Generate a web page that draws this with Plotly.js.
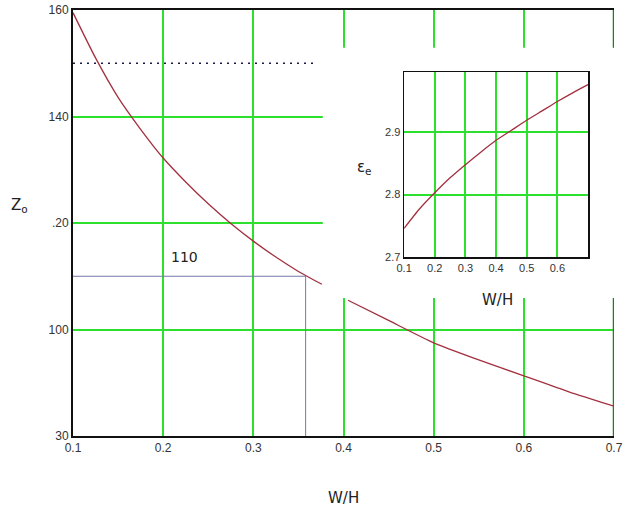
<!DOCTYPE html>
<html>
<head>
<meta charset="utf-8">
<script src="https://cdn.plot.ly/plotly-3.0.1.min.js"></script>
<style>html,body{margin:0;padding:0;background:#fff;}#chart{width:632px;height:511px;}</style>
</head>
<body>
<div id="chart"></div>
<script>
// Main curve Zo vs W/H (two visible segments, gap hidden behind the inset)
const zoX1 = [0.10, 0.125, 0.15, 0.175, 0.20, 0.225, 0.25, 0.275, 0.30, 0.325, 0.35, 0.376];
const zoY1 = [159.5, 151.0, 143.6, 137.6, 132.2, 127.7, 123.6, 119.9, 116.6, 113.6, 110.9, 108.5];
const zoX2 = [0.405, 0.45, 0.50, 0.55, 0.60, 0.65, 0.70];
const zoY2 = [105.5, 101.7, 97.5, 94.3, 91.3, 88.3, 85.6];

// Inset curve effective permittivity vs W/H
const epsX = [0.10, 0.15, 0.20, 0.25, 0.30, 0.35, 0.40, 0.45, 0.50, 0.55, 0.60, 0.65, 0.70];
const epsY = [2.746, 2.777, 2.803, 2.827, 2.848, 2.868, 2.887, 2.903, 2.919, 2.934, 2.949, 2.963, 2.976];

// Reference markers
const targetZo = 110;
const targetWH = 0.358;
const dottedZo = 150;
const dottedEnd = 0.37;

// Tick values / labels
const mainXTicks = [0.1, 0.2, 0.3, 0.4, 0.5, 0.6, 0.7];
const mainXText = ["0.1", "0.2", "0.3", "0.4", "0.5", "0.6", "0.7"];
const mainYTicks = [80, 100, 120, 140, 160];
const mainYText = ["30", "100", ".20", "140", "160"];
const insetXTicks = [0.1, 0.2, 0.3, 0.4, 0.5, 0.6];
const insetXText = ["0.1", "0.2", "0.3", "0.4", "0.5", "0.6"];
const insetYTicks = [2.7, 2.8, 2.9];
const insetYText = ["2.7", "2.8", "2.9"];

const curveColor = '#a3303f';
const gridGreen = '#2ee02e';

const traces = [
  // white patch behind inset (covers main grid in that region)
  {x: [0.377, 0.75, 0.75, 0.377, 0.377], y: [152.9, 152.9, 105.9, 105.9, 152.9],
   mode: 'lines', fill: 'toself', fillcolor: '#ffffff', line: {width: 0, color: '#ffffff'},
   xaxis: 'x', yaxis: 'y', hoverinfo: 'skip'},
  // dark green right edge line at 0.7
  {x: [0.7, 0.7, null, 0.7, 0.7], y: [160, 152.9, null, 105.9, 80],
   mode: 'lines', line: {color: '#1f7f1f', width: 2.5}, xaxis: 'x', yaxis: 'y', hoverinfo: 'skip'},
  // dotted line
  {x: [mainXTicks[0], dottedEnd], y: [dottedZo, dottedZo], mode: 'lines',
   line: {color: '#1a1a4a', width: 1.5, dash: '2px,5px'}, xaxis: 'x', yaxis: 'y', hoverinfo: 'skip'},
  // reference lines
  {x: [mainXTicks[0], targetWH, targetWH], y: [targetZo, targetZo, mainYTicks[0]], mode: 'lines',
   line: {color: '#7777aa', width: 1}, xaxis: 'x', yaxis: 'y', hoverinfo: 'skip'},
  {x: zoX1, y: zoY1, mode: 'lines', line: {color: curveColor, width: 1.3, shape: 'spline', smoothing: 0.6}, xaxis: 'x', yaxis: 'y'},
  {x: zoX2, y: zoY2, mode: 'lines', line: {color: curveColor, width: 1.3, shape: 'spline', smoothing: 0.6}, xaxis: 'x', yaxis: 'y'},
  {x: epsX, y: epsY, mode: 'lines', line: {color: curveColor, width: 1.3, shape: 'spline', smoothing: 0.6}, xaxis: 'x2', yaxis: 'y2'}
];

const tickFont = {family: 'Liberation Sans, Arial, sans-serif', size: 12, color: '#333333'};
const insetTickFont = {family: 'Liberation Sans, Arial, sans-serif', size: 11, color: '#333333'};
const titleFont = {family: 'DejaVu Sans, sans-serif', size: 15, color: '#222222'};

const layout = {
  width: 632, height: 511,
  margin: {l: 73, r: 18, t: 10, b: 75},
  paper_bgcolor: '#ffffff', plot_bgcolor: '#ffffff',
  showlegend: false,
  xaxis: {
    domain: [0, 1], range: [0.1, 0.7], tickvals: mainXTicks, ticktext: mainXText,
    showgrid: true, gridcolor: gridGreen, gridwidth: 2, zeroline: false,
    showline: true, linecolor: '#111111', linewidth: 2, mirror: true,
    ticks: '', tickfont: tickFont, fixedrange: true
  },
  yaxis: {
    domain: [0, 1], range: [80, 160], tickvals: mainYTicks, ticktext: mainYText,
    showgrid: true, gridcolor: gridGreen, gridwidth: 2, zeroline: false,
    showline: true, linecolor: '#111111', linewidth: 2, mirror: false,
    ticks: '', tickfont: tickFont, fixedrange: true
  },
  xaxis2: {
    domain: [0.612, 0.952], anchor: 'y2', range: [0.1, 0.7],
    tickvals: insetXTicks, ticktext: insetXText,
    showgrid: true, gridcolor: gridGreen, gridwidth: 2, zeroline: false,
    showline: true, linecolor: '#111111', linewidth: 1.5, mirror: true,
    ticks: '', tickfont: insetTickFont, fixedrange: true
  },
  yaxis2: {
    domain: [0.420, 0.854], anchor: 'x2', range: [2.7, 2.996],
    tickvals: insetYTicks, ticktext: insetYText,
    showgrid: true, gridcolor: gridGreen, gridwidth: 2, zeroline: false,
    showline: true, linecolor: '#111111', linewidth: 1.5, mirror: true,
    ticks: '', tickfont: insetTickFont, fixedrange: true
  },
  annotations: [
    {text: 'W/H', xref: 'paper', yref: 'paper', x: 0.5, y: -0.146, xanchor: 'center', yanchor: 'middle',
     showarrow: false, font: titleFont},
    {text: 'Z<sub>o</sub>', xref: 'paper', yref: 'paper', x: -0.098, y: 0.542, xanchor: 'center', yanchor: 'middle',
     showarrow: false, font: titleFont},
    {text: String(targetZo), xref: 'x', yref: 'y', x: 0.224, y: 113.6, xanchor: 'center', yanchor: 'middle',
     showarrow: false, font: {family: 'DejaVu Sans, sans-serif', size: 14, color: '#222222'}},
    {text: 'W/H', xref: 'paper', yref: 'paper', x: (497 - 73) / 541, y: (436 - 300) / 426, xanchor: 'center', yanchor: 'middle',
     showarrow: false, font: titleFont},
    {text: 'ε<sub>e</sub>', xref: 'paper', yref: 'paper', x: (364 - 73) / 541, y: (436 - 167) / 426, xanchor: 'center', yanchor: 'middle',
     showarrow: false, font: titleFont}
  ]
};

Plotly.newPlot('chart', traces, layout, {staticPlot: true, displayModeBar: false});
</script>
</body>
</html>
